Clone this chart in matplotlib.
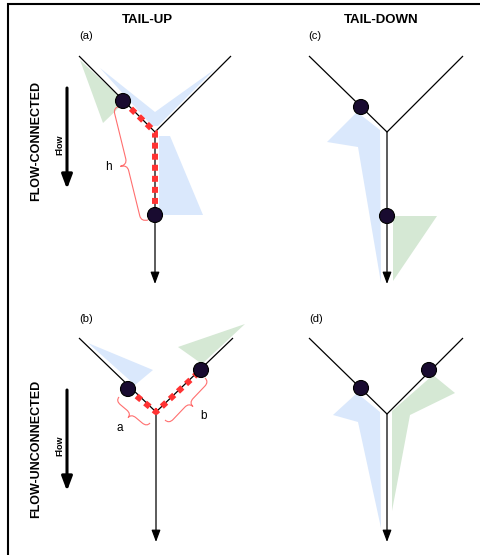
import numpy as np
import matplotlib.pyplot as plt
from matplotlib.path import Path
from matplotlib.patches import PathPatch, Polygon, Circle

plt.rcParams['font.family'] = ['Liberation Sans', 'DejaVu Sans']

W, H = 481, 555

BLUE = '#dae8fc'
GREEN = '#d5e8d4'
RED = '#ff3333'
BRACE_RED = '#ff6f6f'
DOT = '#190b30'

# stream network per panel: (left tip, junction, right tip, outlet)
net_a = [(79, 56), (155, 132), (231, 56), (155, 284)]
net_b = [(79, 338), (156, 412), (233, 338), (156, 542)]
net_c = [(309, 56), (387, 132), (463, 56), (387, 284)]
net_d = [(309, 338), (387, 414), (463, 338), (387, 542)]

# observation sites
sites_a = [(123, 101), (155, 215)]
sites_b = [(128, 389), (201, 370)]
sites_c = [(361, 107), (387, 216)]
sites_d = [(361, 388), (429, 370)]

# weighting regions (moving-average functions)
blue_a = [[(100, 68), (155, 112), (215, 69), (158, 126), (152, 126)],
          [(159, 136), (170, 136), (203, 215), (159, 215)]]
green_a = [[(80, 60), (125, 102), (103, 123)]]
blue_b = [[(88, 343), (153, 370), (135, 385)]]
green_b = [[(178, 347), (245, 324), (202, 364)]]
blue_c = [[(357, 112), (380, 130), (381, 283), (358, 147), (327, 142)]]
green_c = [[(393, 216), (437, 216), (393, 281)]]
blue_d = [[(357, 393), (380, 412), (381, 528), (358, 422), (333, 415)]]
green_d = [[(433, 375), (455, 393), (410, 415), (392, 511), (392, 411)]]

# hydrologic distance paths (red dashes)
path_a = [sites_a[0], net_a[1], sites_a[1]]
path_b = [sites_b[0], net_b[1], sites_b[1]]

# braces: (start, end, depth, label, label position)
braces = [((120, 106), (148, 220), 14, 'h', (108, 167)),
          ((119, 397), (150, 423), 10, 'a', (120, 428)),
          ((165, 420), (205, 378), 11, 'b', (204, 416))]

panel_labels = [('(a)', (86, 36)), ('(c)', (315, 36)),
                ('(b)', (86, 319)), ('(d)', (316, 319))]


def draw_network(ax, net):
    left, junc, right, outlet = net
    ax.plot([left[0], junc[0], right[0]], [left[1], junc[1], right[1]],
            color='black', lw=0.9, zorder=2, solid_capstyle='butt')
    ax.annotate('', xy=outlet, xytext=junc,
                arrowprops=dict(arrowstyle='-|>,head_length=0.8,head_width=0.3',
                                color='black', lw=0.9, mutation_scale=9,
                                shrinkA=0, shrinkB=0), zorder=2)


def draw_regions(ax, polys, color):
    for pts in polys:
        ax.add_patch(Polygon(pts, closed=True, facecolor=color,
                             edgecolor='none', zorder=1))


def draw_sites(ax, sites):
    for xy in sites:
        ax.add_patch(Circle(xy, 7.5, facecolor=DOT, edgecolor='black',
                            lw=0.8, zorder=5))


def draw_path(ax, pts):
    xs, ys = zip(*pts)
    ax.plot(xs, ys, color=RED, lw=4.3, linestyle=(0, (1, 0.85)),
            dash_capstyle='butt', zorder=3)


def draw_brace(ax, p0, p1, depth):
    p0 = np.array(p0, float)
    p1 = np.array(p1, float)
    d = p1 - p0
    L = np.hypot(*d)
    u = d / L
    n = np.array([-u[1], u[0]])
    q = min(6, L / 5)
    h = depth
    local = [(0, 0), (0, h / 2), (q, h / 2), (L / 2 - q, h / 2),
             (L / 2, h / 2), (L / 2, h), (L / 2, h / 2), (L / 2 + q, h / 2),
             (L - q, h / 2), (L, h / 2), (L, 0)]
    codes = [Path.MOVETO, Path.CURVE3, Path.CURVE3, Path.LINETO,
             Path.CURVE3, Path.CURVE3, Path.CURVE3, Path.CURVE3,
             Path.LINETO, Path.CURVE3, Path.CURVE3]
    verts = [p0 + a * u + b * n for a, b in local]
    ax.add_patch(PathPatch(Path(verts, codes), facecolor='none',
                           edgecolor=BRACE_RED, lw=0.8, zorder=2))


def flow_arrow(ax, x, y0, y1, label_y, row_label, row_y):
    ax.annotate('', xy=(x, y1), xytext=(x, y0),
                arrowprops=dict(arrowstyle='-|>,head_length=0.85,head_width=0.32',
                                color='black', lw=2.2, mutation_scale=10,
                                shrinkA=0, shrinkB=0))
    ax.text(x - 7, label_y, 'Flow', rotation=90, ha='center', va='center',
            fontsize=6.5, fontweight='bold')
    ax.text(36, row_y, row_label, rotation=90, ha='center', va='center',
            fontsize=9, fontweight='bold')


fig = plt.figure(figsize=(W / 100, H / 100), dpi=100)
ax = fig.add_axes([0, 0, 1, 1])
ax.set_xlim(0, W)
ax.set_ylim(H, 0)
ax.axis('off')

# frame (top and left edges visible)
ax.plot([8, 8, W + 5], [H + 5, 4, 4], color='black', lw=1.5,
        solid_joinstyle='miter', clip_on=False)

ax.text(147, 20, 'TAIL-UP', ha='center', va='center', fontsize=9.5, fontweight='bold')
ax.text(381, 20, 'TAIL-DOWN', ha='center', va='center', fontsize=9.5, fontweight='bold')
for txt, (x, y) in panel_labels:
    ax.text(x, y, txt, ha='center', va='center', fontsize=8)

for polys in (blue_a, blue_b, blue_c, blue_d):
    draw_regions(ax, polys, BLUE)
for polys in (green_a, green_b, green_c, green_d):
    draw_regions(ax, polys, GREEN)

for net in (net_a, net_b, net_c, net_d):
    draw_network(ax, net)

draw_path(ax, path_a)
draw_path(ax, path_b)

for sites in (sites_a, sites_b, sites_c, sites_d):
    draw_sites(ax, sites)

for p0, p1, depth, lab, (lx, ly) in braces:
    draw_brace(ax, p0, p1, depth)
    ax.text(lx, ly, lab, ha='center', va='center', fontsize=8.5)

flow_arrow(ax, 67, 88, 189, 145, 'FLOW-CONNECTED', 141)
flow_arrow(ax, 67, 390, 491, 446, 'FLOW-UNCONNECTED', 449)

fig.savefig('out.png', dpi=100)
